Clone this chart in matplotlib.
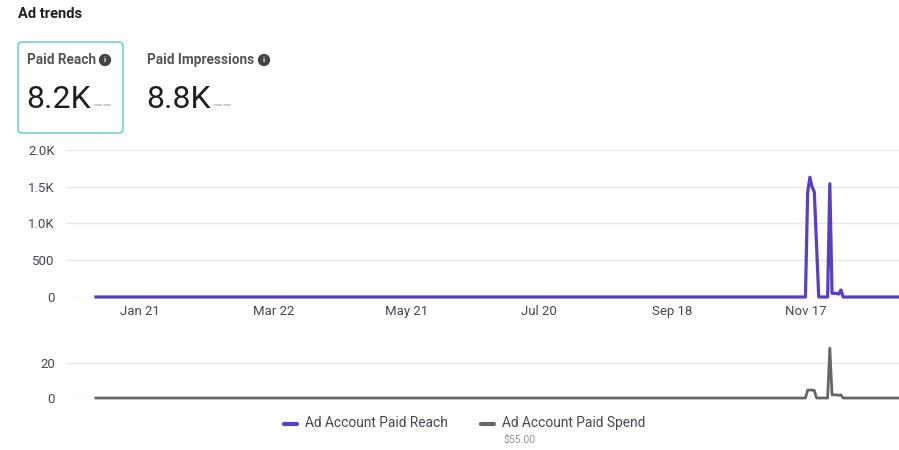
import matplotlib
matplotlib.use("Agg")
import matplotlib.pyplot as plt
import matplotlib.dates as mdates
from matplotlib.patches import FancyBboxPatch
from matplotlib.lines import Line2D
from matplotlib.transforms import IdentityTransform
import numpy as np
import pandas as pd

plt.rcParams['font.family'] = ['Roboto', 'DejaVu Sans']

# daily series for the year, zero except around late November
days = pd.date_range('2023-01-01', '2023-12-31', freq='D')
spike_dates = ['2023-11-18', '2023-11-19', '2023-11-20', '2023-11-21', '2023-11-22',
               '2023-11-28', '2023-11-29', '2023-11-30', '2023-12-01', '2023-12-02',
               '2023-12-03']
reach_spike = [1420, 1630, 1500, 1430, 700, 1540, 50, 50, 50, 40, 95]
spend_spike = [4.5, 4.6, 4.5, 4.3, 0, 28.5, 1.8, 1.8, 1.8, 1.5, 1.8]

reach = pd.Series(0.0, index=days)
spend = pd.Series(0.0, index=days)
reach[pd.to_datetime(spike_dates)] = reach_spike
spend[pd.to_datetime(spike_dates)] = spend_spike

tick_dates = pd.to_datetime(['2023-01-21', '2023-03-22', '2023-05-21',
                             '2023-07-20', '2023-09-18', '2023-11-17'])
tick_labels = ['Jan 21', 'Mar 22', 'May 21', 'Jul 20', 'Sep 18', 'Nov 17']

reach_ticks = [0, 500, 1000, 1500, 2000]
reach_tick_labels = ['0', '500', '1.0K', '1.5K', '2.0K']
spend_ticks = [0, 20]

purple = '#5a3ec8'
gray = '#666666'
grid_c = '#e8e8e8'
text_c = '#444950'
dark = '#1c1e21'

W, H = 899, 450
fig = plt.figure(figsize=(W / 100, H / 100), dpi=100)


def fx(px):
    return px / W


def fy(py):
    return 1 - py / H


# header
fig.text(fx(18), fy(14), 'Ad trends', fontsize=10.5, weight='bold', color=dark, va='center')
box = FancyBboxPatch((18, H - 133), 105, 91, boxstyle='round,pad=0,rounding_size=4',
                     transform=IdentityTransform(), fc='white', ec='#5cc8c8', lw=1)
fig.patches.append(box)

for x0, name, val, ix, dx in [(27, 'Paid Reach', '8.2K', 105, 95),
                              (147, 'Paid Impressions', '8.8K', 264, 215)]:
    fig.text(fx(x0), fy(60), name, fontsize=9.8, weight='bold', color='#555555', va='center')
    fig.text(fx(ix), fy(60), 'i', fontsize=5.5, weight='bold', color='white', ha='center',
             va='center', bbox=dict(boxstyle='circle,pad=0.35', fc='#444444', ec='none'))
    fig.text(fx(x0 - 1), fy(99), val, fontsize=23, color=dark, va='center')
    # "no comparison" dashes after the value
    for d0 in (dx, dx + 9):
        fig.lines.append(Line2D([fx(d0), fx(d0 + 6)], [fy(105), fy(105)], transform=fig.transFigure,
                                color='#c4c4c4', lw=1.2))

x_left = mdates.date2num(days[0]) - 13.5
x_right = mdates.date2num(days[0]) + 362.2

# reach chart
ax1 = fig.add_axes([fx(66), fy(297), fx(899) - fx(66), fy(150) - fy(297)])
ax1.plot(days, reach, color=purple, lw=2.3, clip_on=False, solid_joinstyle='round')
ax1.set_xlim(x_left, x_right)
ax1.set_ylim(0, 2000)
ax1.set_yticks(reach_ticks)
ax1.set_yticklabels(reach_tick_labels)
ax1.set_xticks(tick_dates)
ax1.set_xticklabels(tick_labels)
ax1.grid(axis='y', color=grid_c, lw=1)
ax1.set_axisbelow(True)

# spend chart
ax2 = fig.add_axes([fx(66), fy(398), fx(899) - fx(66), fy(345.5) - fy(398)])
ax2.plot(days, spend, color=gray, lw=2.0, clip_on=False, solid_joinstyle='round')
ax2.set_xlim(x_left, x_right)
ax2.set_ylim(0, 30)
ax2.set_yticks(spend_ticks)
ax2.set_xticks([])
ax2.grid(axis='y', color=grid_c, lw=1)
ax2.set_axisbelow(True)

for ax in (ax1, ax2):
    for s in ax.spines.values():
        s.set_visible(False)
    ax.tick_params(length=0, labelsize=9.5, labelcolor=text_c)
    ax.tick_params(axis='y', pad=8)
    ax.tick_params(axis='x', pad=6)

# legend
for x0, col, label in [(283, purple, 'Ad Account Paid Reach'), (480, gray, 'Ad Account Paid Spend')]:
    fig.lines.append(Line2D([fx(x0 + 1), fx(x0 + 14)], [fy(424), fy(424)], transform=fig.transFigure,
                            color=col, lw=3, solid_capstyle='round'))
    fig.text(fx(x0 + 22), fy(423), label, fontsize=9.9, color=text_c, va='center')
fig.text(fx(503), fy(440), '$55.00', fontsize=7.5, color='#8d949e', va='center')

fig.savefig('out.png', dpi=100)
